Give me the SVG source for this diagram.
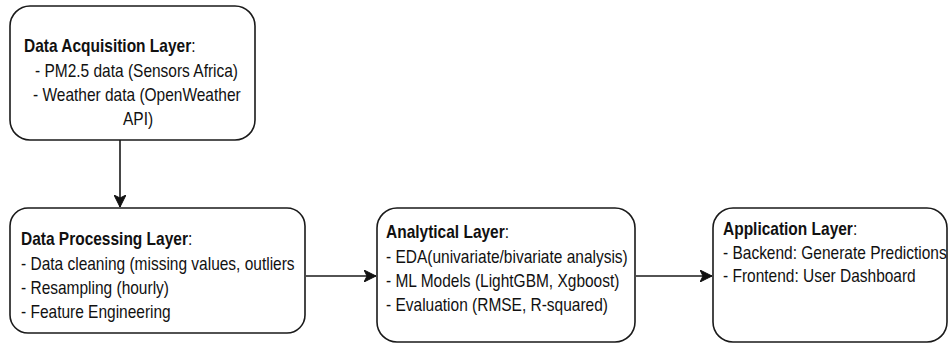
<svg xmlns="http://www.w3.org/2000/svg" width="949" height="345" viewBox="0 0 949 345">
  <style>
    .box { fill: #ffffff; stroke: #1a1a1a; stroke-width: 1.6; }
    .txt { font-family: "Liberation Sans", Arial, sans-serif; font-size: 17.5px; fill: #111111; }
    .b { font-weight: bold; }
    .edge { fill: none; stroke: #1a1a1a; stroke-width: 1.6; }
  </style>
  <defs>
    <marker id="arrow" markerUnits="userSpaceOnUse" markerWidth="14" markerHeight="12" refX="12" refY="6" orient="auto" viewBox="0 0 14 12">
      <path d="M0,0 L12,6 L0,12 L3,6 z" fill="#111111" stroke="#111111" stroke-width="1"/>
    </marker>
  </defs>

  <rect width="949" height="345" fill="#ffffff"/>

  <g id="connectors">
    <path class="edge" d="M120,140 L120,207" marker-end="url(#arrow)"/>
    <path class="edge" d="M306,276 L376,276" marker-end="url(#arrow)"/>
    <path class="edge" d="M636,276 L712,276" marker-end="url(#arrow)"/>
  </g>

  <g id="data-acquisition">
    <rect class="box" x="10" y="6" width="245" height="134" rx="20"/>
    <text class="txt" transform="translate(24 52) scale(0.885 1)"><tspan class="b">Data Acquisition Layer</tspan>:</text>
    <text class="txt" transform="translate(35 77) scale(0.885 1)">- PM2.5 data (Sensors Africa)</text>
    <text class="txt" transform="translate(33 101) scale(0.885 1)">- Weather data (OpenWeather</text>
    <text class="txt" transform="translate(123 125) scale(0.885 1)">API)</text>
  </g>

  <g id="data-processing">
    <rect class="box" x="10" y="208" width="295" height="125" rx="18"/>
    <text class="txt" transform="translate(21 245) scale(0.885 1)"><tspan class="b">Data Processing Layer</tspan>:</text>
    <text class="txt" transform="translate(21 270) scale(0.885 1)">- Data cleaning (missing values, outliers</text>
    <text class="txt" transform="translate(21 294) scale(0.885 1)">- Resampling (hourly)</text>
    <text class="txt" transform="translate(21 318) scale(0.885 1)">- Feature Engineering</text>
  </g>

  <g id="analytical">
    <rect class="box" x="377" y="208" width="258" height="134" rx="20"/>
    <text class="txt" transform="translate(386 238) scale(0.885 1)"><tspan class="b">Analytical Layer</tspan>:</text>
    <text class="txt" transform="translate(386 263) scale(0.885 1)">- EDA(univariate/bivariate analysis)</text>
    <text class="txt" transform="translate(386 287) scale(0.885 1)">- ML Models (LightGBM, Xgboost)</text>
    <text class="txt" transform="translate(386 311) scale(0.885 1)">- Evaluation (RMSE, R-squared)</text>
  </g>

  <g id="application">
    <rect class="box" x="713" y="208" width="234" height="134" rx="20"/>
    <text class="txt" transform="translate(723 235) scale(0.885 1)"><tspan class="b">Application Layer</tspan>:</text>
    <text class="txt" transform="translate(723 259) scale(0.885 1)">- Backend: Generate Predictions</text>
    <text class="txt" transform="translate(723 282) scale(0.885 1)">- Frontend: User Dashboard</text>
  </g>
</svg>
